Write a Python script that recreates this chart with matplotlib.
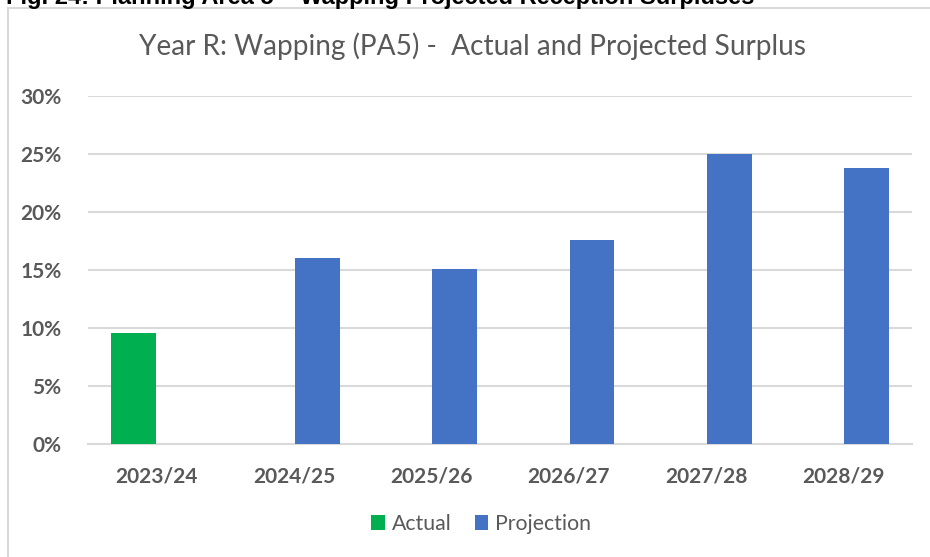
import numpy as np
import matplotlib.pyplot as plt
from matplotlib.lines import Line2D
from matplotlib.ticker import FuncFormatter

# data
years = ['2023/24', '2024/25', '2025/26', '2026/27', '2027/28', '2028/29']
actual = [9.6, np.nan, np.nan, np.nan, np.nan, np.nan]
projection = [np.nan, 16.1, 15.1, 17.6, 25.0, 23.8]
yticks = [0, 5, 10, 15, 20, 25, 30]

title = 'Year R: Wapping (PA5) -  Actual and Projected Surplus'
caption = 'Fig. 24: Planning Area 5 \u2013 Wapping Projected Reception Surpluses'

GREEN = '#00B050'
BLUE = '#4472C4'
GRAY_TXT = '#595959'
GRID = '#D9D9D9'

W, H = 930, 557
fig = plt.figure(figsize=(W / 100, H / 100), dpi=100)

def fx(px):
    return px / W

def fy(py):
    return 1 - py / H

# chart border (partly outside the picture)
fig.add_artist(Line2D([fx(8), 1.0], [fy(7.5), fy(7.5)], color=GRID, lw=1.5))
fig.add_artist(Line2D([fx(8), fx(8)], [fy(7.5), 0.0], color=GRID, lw=1.5))

# caption of the document above the chart, cut by the top edge as in the source
fig.text(fx(6), fy(4), caption, fontsize=17, fontweight='bold',
         family='Liberation Sans', va='baseline', ha='left', color='black')

ax = fig.add_axes([fx(88), fy(444), fx(912) - fx(88), fy(96.5) - fy(444)])

x = np.arange(len(years))
w = 0.324
ax.bar(x - 0.17, actual, w, color=GREEN, label='Actual', zorder=3)
ax.bar(x + 0.17, projection, w, color=BLUE, label='Projection', zorder=3)

ax.set_xlim(-0.5, len(years) - 0.5)
ax.set_ylim(0, 30)
ax.set_yticks(yticks)
ax.yaxis.set_major_formatter(FuncFormatter(lambda v, p: f'{v:.0f}%'))
ax.set_xticks(x)
ax.set_xticklabels(years)
ax.grid(axis='y', color=GRID, lw=1.5, zorder=0)
for s in ['top', 'right', 'left']:
    ax.spines[s].set_visible(False)
ax.spines['bottom'].set_color(GRID)
ax.spines['bottom'].set_linewidth(1.5)
ax.tick_params(length=0, colors=GRAY_TXT, labelsize=15)
ax.tick_params(axis='x', pad=16)
ax.tick_params(axis='y', pad=19)
for lab in ax.get_xticklabels() + ax.get_yticklabels():
    lab.set_fontweight('bold')
    lab.set_family('Lato')

fig.text(fx(472), fy(46), title, fontsize=20.2, family='Lato', color=GRAY_TXT,
         ha='center', va='center')

leg = fig.legend(loc='center', bbox_to_anchor=(fx(481), fy(524)), ncol=2,
                 frameon=False, handlelength=0.65, handleheight=0.65,
                 handletextpad=0.3, columnspacing=1.1,
                 prop={'family': 'Lato', 'size': 15.3})
for t in leg.get_texts():
    t.set_color(GRAY_TXT)

fig.savefig('out.png', dpi=100, facecolor='white')
